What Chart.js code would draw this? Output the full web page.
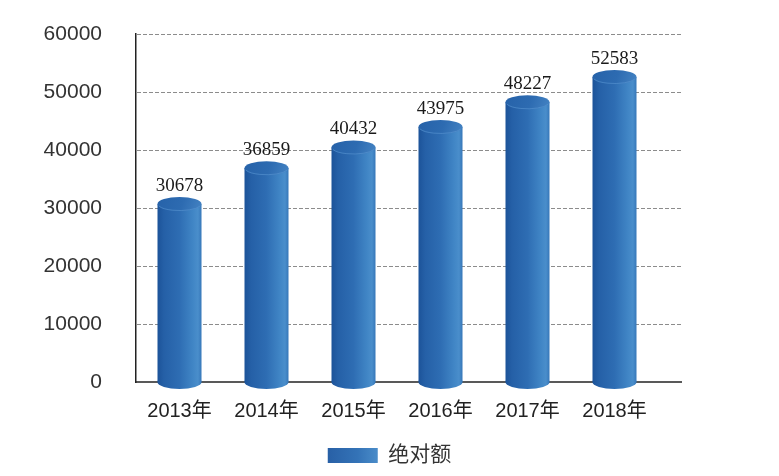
<!DOCTYPE html>
<html><head><meta charset="utf-8">
<script src="https://cdn.jsdelivr.net/npm/chart.js@4"></script>
<style>html,body{margin:0;padding:0;background:#fff}#c{display:block}</style>
</head><body>
<canvas id="c" width="779" height="476"></canvas>
<script>
const categories = ['2013年', '2014年', '2015年', '2016年', '2017年', '2018年'];
const values = [30678, 36859, 40432, 43975, 48227, 52583];
const seriesName = '绝对额';
const yMin = 0, yMax = 60000, yStep = 10000;

const SANS = "'Liberation Sans', 'Noto Sans CJK SC', sans-serif";
const SERIF = "'Liberation Serif', 'DejaVu Serif', serif";

function bodyGradient(ctx, x0, x1) {
  const g = ctx.createLinearGradient(x0, 0, x1, 0);
  g.addColorStop(0, '#1c5399');
  g.addColorStop(0.15, '#2560a7');
  g.addColorStop(0.5, '#2e6db3');
  g.addColorStop(0.8, '#4085c5');
  g.addColorStop(0.92, '#4a8ecb');
  g.addColorStop(1, '#3677b9');
  return g;
}

const gridPlugin = {
  id: 'gridExt',
  beforeDatasetsDraw(chart) {
    const ctx = chart.ctx, y = chart.scales.y, a = chart.chartArea;
    const right = a.right + 24;
    ctx.save();
    ctx.strokeStyle = '#8c8c8c';
    ctx.lineWidth = 1;
    ctx.setLineDash([4, 2]);
    y.ticks.forEach(t => {
      if (t.value === yMin) return;
      const py = Math.round(y.getPixelForValue(t.value)) + 0.5;
      ctx.beginPath(); ctx.moveTo(a.left + 1, py); ctx.lineTo(right, py); ctx.stroke();
    });
    ctx.setLineDash([]);
    ctx.strokeStyle = '#222';
    ctx.lineWidth = 1.5;
    const by = y.getPixelForValue(yMin);
    ctx.beginPath(); ctx.moveTo(a.left, by); ctx.lineTo(right, by); ctx.stroke();
    ctx.restore();
  }
};

const cylinderPlugin = {
  id: 'cylinder',
  afterDatasetsDraw(chart) {
    const ctx = chart.ctx;
    const meta = chart.getDatasetMeta(0);
    const ry = 7;
    meta.data.forEach((bar, i) => {
      const {x, y, base, width} = bar.getProps(['x', 'y', 'base', 'width'], true);
      const rx = width / 2;
      const x0 = x - rx, x1 = x + rx;
      ctx.save();
      const g = bodyGradient(ctx, x0, x1);
      ctx.fillStyle = g;
      ctx.beginPath(); ctx.ellipse(x, base, rx, ry, 0, 0, Math.PI * 2); ctx.fill();
      ctx.fillRect(x0, y, width, base - y);
      const tg = ctx.createLinearGradient(x0, y - ry, x1, y + ry);
      tg.addColorStop(0, '#2662a9');
      tg.addColorStop(0.55, '#2d6bb1');
      tg.addColorStop(1, '#4483c3');
      ctx.fillStyle = tg;
      ctx.beginPath(); ctx.ellipse(x, y, rx, ry, 0, 0, Math.PI * 2); ctx.fill();
      ctx.strokeStyle = 'rgba(90,150,210,0.6)';
      ctx.lineWidth = 1;
      ctx.beginPath(); ctx.ellipse(x, y, rx - 0.5, ry - 0.5, 0, 0.1 * Math.PI, 0.9 * Math.PI); ctx.stroke();
      ctx.fillStyle = '#1a1a1a';
      ctx.font = '19px ' + SERIF;
      ctx.textAlign = 'center';
      ctx.textBaseline = 'alphabetic';
      ctx.fillText(String(values[i]), x, y - 13);
      ctx.restore();
    });
  }
};

const legendGradPlugin = {
  id: 'legendGrad',
  beforeDraw(chart) {
    const lg = chart.legend;
    if (!lg || !lg.legendItems || !lg.legendHitBoxes || !lg.legendHitBoxes.length) return;
    const hb = lg.legendHitBoxes[0];
    const g = chart.ctx.createLinearGradient(hb.left, 0, hb.left + 50, 0);
    g.addColorStop(0, '#2860a6');
    g.addColorStop(0.6, '#3473b7');
    g.addColorStop(1, '#4a8cc9');
    lg.legendItems[0].fillStyle = g;
    lg.legendItems[0].strokeStyle = 'rgba(0,0,0,0)';
    lg.legendItems[0].lineWidth = 0;
  }
};

new Chart(document.getElementById('c'), {
  type: 'bar',
  data: {
    labels: categories,
    datasets: [{
      label: seriesName,
      data: values,
      backgroundColor: 'rgba(0,0,0,0)',
      borderWidth: 0,
      barPercentage: 1,
      categoryPercentage: 44 / 87
    }]
  },
  options: {
    responsive: false,
    animation: false,
    devicePixelRatio: 1,
    layout: { padding: { top: 34, left: 0, right: 0, bottom: 0 } },
    plugins: {
      tooltip: { enabled: false },
      legend: {
        position: 'bottom',
        labels: {
          boxWidth: 50, boxHeight: 15,
          font: { size: 21, family: SANS },
          color: '#333',
          padding: 10
        }
      }
    },
    scales: {
      x: {
        grid: { display: false },
        border: { display: false },
        ticks: { font: { size: 20, family: SANS }, color: '#222', padding: 9 },
        afterFit(s) { s.height = 53; }
      },
      y: {
        min: yMin, max: yMax,
        grid: { display: false },
        border: { display: true, color: '#222', width: 1.5 },
        ticks: { stepSize: yStep, font: { size: 21, family: SANS }, color: '#333', padding: 26,
                 callback: v => String(v) },
        afterFit(s) { s.width = 136; s.paddingTop = 0; s.paddingBottom = 0; }
      },
      y2: {
        position: 'right',
        display: true,
        grid: { display: false },
        border: { display: false },
        ticks: { display: false },
        afterFit(s) { s.width = 121; s.paddingTop = 0; s.paddingBottom = 0; }
      }
    }
  },
  plugins: [gridPlugin, cylinderPlugin, legendGradPlugin]
});
</script>
</body></html>
